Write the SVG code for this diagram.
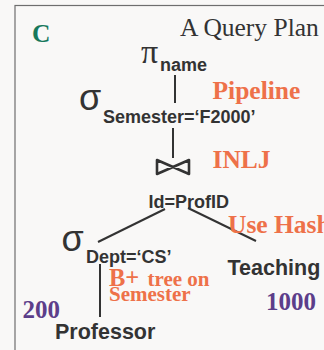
<svg xmlns="http://www.w3.org/2000/svg" width="324" height="350" viewBox="0 0 324 350">
  <style>
    .op { font-family: "Liberation Sans", Arial, sans-serif; fill: #333333; }
    .greek { font-family: "Liberation Serif", "Times New Roman", serif; fill: #333333; }
    .lbl { font-family: "Liberation Sans", Arial, sans-serif; font-weight: bold; font-size: 18px; fill: #333333; }
    .rel { font-family: "Liberation Sans", Arial, sans-serif; font-weight: bold; font-size: 21.5px; fill: #333333; }
    .note { font-family: "Liberation Serif", "Times New Roman", serif; font-weight: bold; fill: #ee7149; }
    .card { font-family: "Liberation Serif", "Times New Roman", serif; font-weight: bold; font-size: 25px; fill: #5c3e8a; }
    .edge { stroke: #333333; stroke-width: 2; fill: none; }
  </style>

  <!-- page background and slide frame -->
  <rect x="0" y="0" width="324" height="350" fill="#f9f8f7"/>
  <rect x="15" y="5.5" width="340" height="360" fill="none" stroke="#6e6e6e" stroke-width="1.2"/>

  <!-- slide header -->
  <text x="32" y="42" font-family="Liberation Serif, Times New Roman, serif" font-weight="bold" font-size="25.5" fill="#17785c">C</text>
  <text x="180" y="35.5" font-family="Liberation Serif, Times New Roman, serif" font-size="25.5" fill="#333333">A Query Plan</text>

  <!-- connectors -->
  <g id="connectors">
    <line class="edge" x1="175" y1="75" x2="175" y2="103"/>
    <line class="edge" x1="173" y1="128" x2="173" y2="158"/>
    <line class="edge" x1="165" y1="209" x2="98" y2="242"/>
    <line class="edge" x1="188" y1="208" x2="256" y2="241"/>
    <line class="edge" x1="100" y1="264" x2="100" y2="317"/>
  </g>

  <!-- projection on name -->
  <g id="project-name">
    <text class="greek" x="141" y="63" font-size="34">π</text>
    <text class="lbl" x="160" y="70.5">name</text>
  </g>

  <!-- selection on Semester -->
  <g id="select-semester">
    <text class="op" x="79" y="110" font-size="36">σ</text>
    <text class="lbl" x="103" y="122.5">Semester=‘F2000’</text>
  </g>

  <!-- join on Id=ProfID -->
  <g id="join">
    <path d="M157,160 L173,167 L189,160 L189,174 L173,167 L157,174 Z" fill="none" stroke="#333333" stroke-width="2.6" stroke-linejoin="round"/>
    <text class="lbl" x="148.5" y="207.5">Id=ProfID</text>
  </g>

  <!-- selection on Dept -->
  <g id="select-dept">
    <text class="op" x="61.5" y="251" font-size="36">σ</text>
    <text class="lbl" x="86" y="262.5">Dept=‘CS’</text>
  </g>

  <!-- base relations -->
  <g id="professor">
    <text class="rel" x="55" y="338.5">Professor</text>
  </g>
  <g id="teaching">
    <text class="rel" x="227.5" y="275">Teaching</text>
  </g>

  <!-- execution notes -->
  <g id="notes">
    <text class="note" x="212.5" y="98.5" font-size="25.5">Pipeline</text>
    <text class="note" x="212.5" y="168" font-size="25.5">INLJ</text>
    <text class="note" x="228" y="232.5" font-size="25.5">Use Hash</text>
    <text class="note" x="109" y="285.5" font-size="24.5">B+<tspan font-size="21" x="147.5">tree on</tspan></text>
    <text class="note" x="109" y="300.5" font-size="21">Semester</text>
  </g>

  <!-- cardinalities -->
  <g id="cardinalities">
    <text class="card" x="22.5" y="318">200</text>
    <text class="card" x="266" y="309.5">1000</text>
  </g>
</svg>
